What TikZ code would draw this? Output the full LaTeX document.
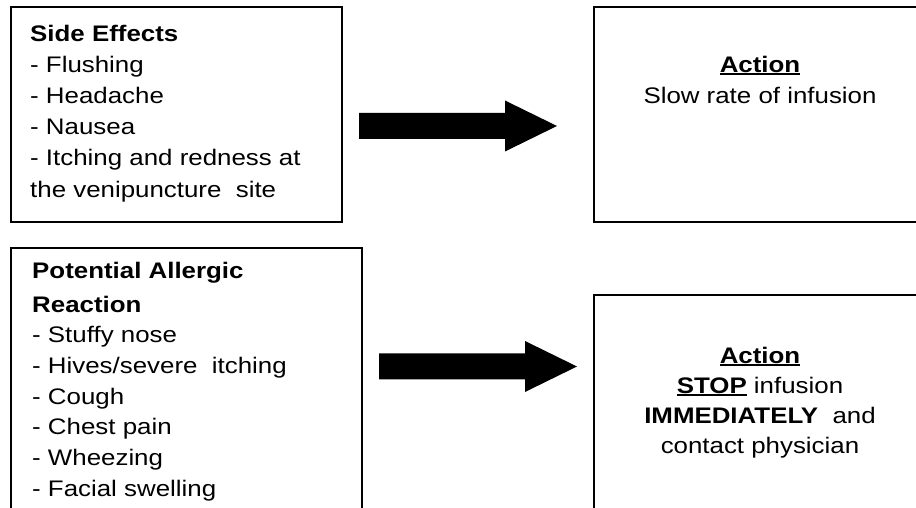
\documentclass[tikz,border=0pt]{standalone}
\usepackage{fontspec}
\setmainfont{Liberation Sans}[FakeStretch=1.15]
\newcommand\myul[1]{\setbox0\hbox{#1}\rlap{\rule[-3pt]{\wd0}{1.8pt}}\box0\relax}
\begin{document}
\begin{tikzpicture}[x=1pt,y=1pt,
  box/.style={draw=black,line width=2pt,rectangle,inner sep=0pt,anchor=north west},
  ltxt/.style={inner sep=0pt,anchor=north west,align=left},
  ctxt/.style={inner sep=0pt,anchor=north,align=center},
  blockarrow/.style={fill=black}]
\useasboundingbox (0,0) rectangle (916,508);
\fill[white] (0,0) rectangle (916,508);
\clip (0,0) rectangle (916,508);
% boxes
\node[box,minimum width=331.5pt,minimum height=215.5pt] (sidebox) at (9.5,502) {};
\node[box,minimum width=360pt,minimum height=214.7pt] (actbox1) at (593,502) {};
\node[box,minimum width=351.5pt,minimum height=290pt] (allbox) at (9.5,260.5) {};
\node[box,minimum width=360pt,minimum height=250pt] (actbox2) at (593,214) {};
% texts
\node[ltxt,font={\fontsize{22.5}{31.2}\selectfont}] (sidetxt) at (30,487)
  {\rule{0pt}{20pt}\textbf{Side Effects}\\- Flushing\\- Headache\\- Nausea\\- Itching and redness at\\the venipuncture\ \ site};
\node[ltxt,font={\fontsize{22.5}{30.7}\selectfont}] (alltxt) at (32,249.5)
  {\rule{0pt}{20pt}\textbf{Potential Allergic}\\[2.8pt]\textbf{Reaction}\\- Stuffy nose\\- Hives/severe\ \ itching\\- Cough\\- Chest pain\\- Wheezing\\- Facial swelling};
\node[ctxt,font={\fontsize{22.5}{31}\selectfont}] (acttxt1) at (760,456)
  {\rule{0pt}{20pt}\myul{\textbf{Action}}\\Slow rate of infusion};
\node[ctxt,font={\fontsize{22.5}{30}\selectfont}] (acttxt2) at (760,165)
  {\rule{0pt}{20pt}\myul{\textbf{Action}}\\\myul{\textbf{STOP}} infusion\\\textbf{IMMEDIATELY}\ \ and\\contact physician};
% block arrows
\fill[blockarrow] (359,395) -- (505,395) -- (505,407.5) -- (557,382) -- (505,356.5) -- (505,369) -- (359,369) -- cycle;
\fill[blockarrow] (379,154.5) -- (525,154.5) -- (525,167) -- (577,141.5) -- (525,116) -- (525,128.5) -- (379,128.5) -- cycle;
\end{tikzpicture}
\end{document}
